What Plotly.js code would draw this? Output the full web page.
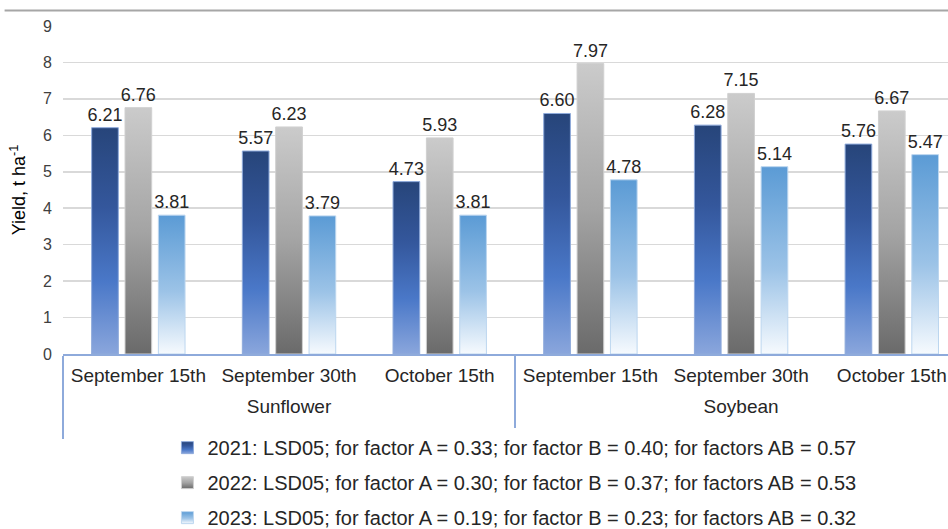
<!DOCTYPE html>
<html>
<head>
<meta charset="utf-8">
<script src="https://cdn.plot.ly/plotly-3.0.1.min.js"></script>
<style>
html,body{margin:0;padding:0;background:#fff;overflow:hidden;}
#chart{width:948px;height:529px;}
</style>
</head>
<body>
<div id="chart"></div>
<script>
// ---- data ----
const crops = ["Sunflower","Sunflower","Sunflower","Soybean","Soybean","Soybean"];
const dates = ["September 15th","September 30th","October 15th","September 15th","September 30th","October 15th"];
const y2021 = [6.21, 5.57, 4.73, 6.60, 6.28, 5.76];
const y2022 = [6.76, 6.23, 5.93, 7.97, 7.15, 6.67];
const y2023 = [3.81, 3.79, 3.81, 4.78, 5.14, 5.47];
const seriesNames = [
  "2021: LSD05; for factor A = 0.33; for factor B = 0.40; for factors AB = 0.57",
  "2022: LSD05; for factor A = 0.30; for factor B = 0.37; for factors AB = 0.53",
  "2023: LSD05; for factor A = 0.19; for factor B = 0.23; for factors AB = 0.32"
];
const yTicks = [0,1,2,3,4,5,6,7,8,9];

// ---- styles ----
const solid = ["#3a62ad", "#9a9a9a", "#8dbbe4"];
const edge = ["#8eaadb", "#d0d0d0", "#bcd6ef"];
const gradStops = [
  [[0,"#27457a"],[0.35,"#34579c"],[0.68,"#4a78c8"],[1,"#8aa6dc"]],
  [[0,"#cbcbcb"],[0.5,"#a4a4a4"],[1,"#6a6a6a"]],
  [[0,"#5b9bd5"],[0.55,"#9cc3e7"],[1,"#f6fafe"]]
];
const FONT = "Liberation Sans, Arial, sans-serif";

const ys = [y2021, y2022, y2023];
const traces = ys.map((vals, i) => ({
  type: "bar",
  name: seriesNames[i],
  x: [crops, dates],
  y: vals,
  legendgroup: "g" + i,
  marker: {color: solid[i], line: {color: edge[i], width: 1}},
  texttemplate: "%{y:.2f}",
  textposition: "outside",
  constraintext: "none",
  cliponaxis: false,
  textfont: {family: FONT, size: 18, color: "#262626"},
  hoverinfo: "skip"
}));

const layout = {
  width: 948, height: 529,
  margin: {l: 63, r: 0, t: 26, b: 175, autoexpand: false},
  paper_bgcolor: "#ffffff",
  plot_bgcolor: "#ffffff",
  font: {family: FONT, size: 17, color: "#262626"},
  barmode: "group",
  bargap: 0.336,
  bargroupgap: 0.2,
  showlegend: true,
  legend: {
    x: 0.118, xanchor: "left",
    y: -0.226, yanchor: "top",
    orientation: "v",
    traceorder: "grouped",
    tracegroupgap: 6,
    font: {family: FONT, size: 20, color: "#262626"},
    itemwidth: 30
  },
  xaxis: {
    type: "multicategory",
    range: [-0.5, 5.373],
    showline: true, linecolor: "#8eaadb", linewidth: 2,
    showdividers: true, dividercolor: "#8eaadb", dividerwidth: 1.5,
    tickfont: {family: FONT, size: 19, color: "#262626"},
    ticklabelstandoff: 3,
    ticks: "", showgrid: false, zeroline: false
  },
  yaxis: {
    range: [0, 9],
    tickvals: yTicks,
    ticktext: yTicks.map(String),
    tickfont: {family: FONT, size: 16, color: "#404040"},
    ticklabelstandoff: 10,
    showgrid: true, gridcolor: "#d9d9d9", gridwidth: 1.5,
    zeroline: false, showline: false,
    title: {text: "Yield, t ha<sup>-1</sup>", font: {family: FONT, size: 18, color: "#000000"}, standoff: 12}
  },
  shapes: [
    {type: "line", xref: "paper", yref: "paper", x0: -0.066, x1: 1.0, y0: 1.0475, y1: 1.0475,
     line: {color: "#a6a6a6", width: 2}},
    {type: "path", xref: "paper", yref: "paper",
     path: "M 0.4791 1.0475 A 0.009 0.0244 0 0 0 0.4972 1.0475",
     line: {color: "#8c8c8c", width: 2}}
  ]
};

Plotly.newPlot("chart", traces, layout, {displayModeBar: false, staticPlot: true}).then(gd => {
  const svg = gd.querySelector("svg.main-svg");
  const NS = "http://www.w3.org/2000/svg";
  const defs = document.createElementNS(NS, "defs");
  gradStops.forEach((stops, i) => {
    const lg = document.createElementNS(NS, "linearGradient");
    lg.setAttribute("id", "barGrad" + i);
    lg.setAttribute("x1", "0"); lg.setAttribute("y1", "0");
    lg.setAttribute("x2", "0"); lg.setAttribute("y2", "1");
    stops.forEach(([o, c]) => {
      const s = document.createElementNS(NS, "stop");
      s.setAttribute("offset", o);
      s.setAttribute("stop-color", c);
      lg.appendChild(s);
    });
    defs.appendChild(lg);
  });
  svg.insertBefore(defs, svg.firstChild);
  gd.querySelectorAll(".barlayer .trace").forEach((tr, i) => {
    tr.querySelectorAll(".point path").forEach(p => { p.style.fill = "url(#barGrad" + i + ")"; });
  });
  gd.querySelectorAll(".legend .traces").forEach((tr, i) => {
    tr.querySelectorAll(".legendpoints path").forEach(p => { p.style.fill = "url(#barGrad" + i + ")"; });
  });
  // spread the two label levels a little, as in the reference
  gd.querySelectorAll("g.xtick2").forEach(g => { g.setAttribute("transform", "translate(0,11)"); });
  gd.querySelectorAll("path.xdivider").forEach(p => {
    const d = p.getAttribute("d");
    if (d) p.setAttribute("d", d.replace(/([vV])\s*(-?[\d.]+)/, (m, c, n) => c + (parseFloat(n) < 0 ? -83 : 83)));
  });
});
</script>
</body>
</html>
